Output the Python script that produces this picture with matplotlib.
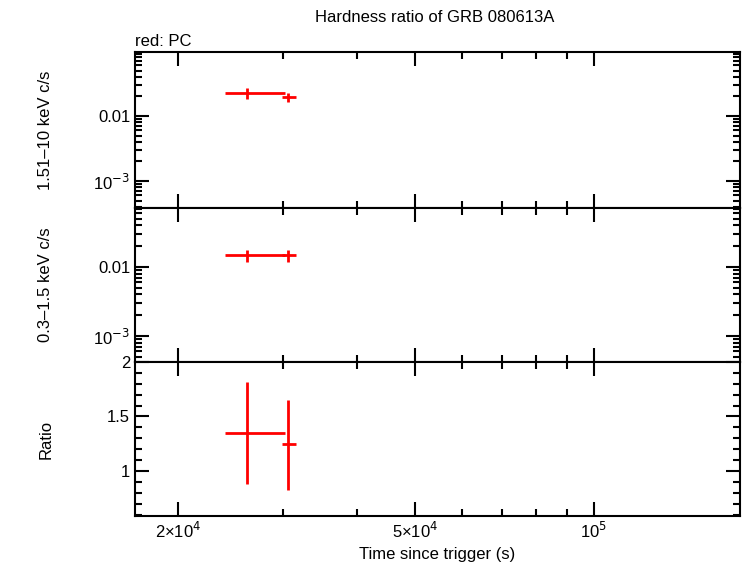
import matplotlib
matplotlib.use("Agg")
import matplotlib.pyplot as plt
from matplotlib.ticker import LogLocator, NullFormatter, FixedLocator, FixedFormatter
plt.rcParams['font.family'] = 'Liberation Sans'

t = [26100, 30600]
t_lo = [24000, 29900]
t_hi = [30270, 31600]
hard = [0.0226, 0.0196]
hard_err = [0.004, 0.003]
soft = [0.0149, 0.0149]
soft_err = [0.003, 0.003]
ratio = [1.353, 1.25]
ratio_lo = [0.88, 0.83]
ratio_hi = [1.82, 1.65]

W, H = 742, 566
fig = plt.figure(figsize=(W/100, H/100), dpi=100)
L, R = 135/W, 740/W
def ax_at(top, bot):
    return fig.add_axes([L, 1-bot/H, R-L, (bot-top)/H])
a1 = ax_at(52, 208); a2 = ax_at(208, 362); a3 = ax_at(362, 516)
xerr = [[c-l for c, l in zip(t, t_lo)], [h-c for c, h in zip(t, t_hi)]]
kw = dict(fmt='none', ecolor='red', elinewidth=2, capsize=0)
a1.errorbar(t, hard, xerr=xerr, yerr=hard_err, **kw)
a2.errorbar(t, soft, xerr=xerr, yerr=soft_err, **kw)
a3.errorbar(t, ratio, xerr=xerr, yerr=[[r-l for r, l in zip(ratio, ratio_lo)], [h-r for r, h in zip(ratio, ratio_hi)]], **kw)
for a in (a1, a2, a3):
    a.set_xscale('log'); a.set_xlim(16950, 176000)
    a.tick_params(which='both', direction='in', top=True, right=True, labelsize=12, width=1.5)
    a.tick_params(which='major', length=10); a.tick_params(which='minor', length=5)
    for s in a.spines.values(): s.set_linewidth(1.5)
    a.xaxis.set_major_locator(FixedLocator([2e4, 5e4, 1e5]))
    a.xaxis.set_minor_locator(LogLocator(subs=range(1, 10)))
    a.xaxis.set_minor_formatter(NullFormatter())
    a.xaxis.set_major_formatter(NullFormatter())
a3.xaxis.set_major_formatter(FixedFormatter(['2×10$^4$', '5×10$^4$', '10$^5$']))
a1.set_yscale('log'); a1.set_ylim(3.85e-4, 0.0966)
a2.set_yscale('log'); a2.set_ylim(4.2e-4, 0.0716)
for a in (a1, a2):
    a.yaxis.set_major_locator(FixedLocator([1e-3, 1e-2]))
    a.yaxis.set_major_formatter(FixedFormatter(['10$^{-3}$', '0.01']))
    a.yaxis.set_minor_locator(LogLocator(subs=range(2, 10)))
    a.yaxis.set_minor_formatter(NullFormatter())
a3.set_ylim(0.587, 2)
a3.set_yticks([1, 1.5, 2]); a3.set_yticklabels(['1', '1.5', '2'])
a3.set_yticks([0.6,0.7,0.8,0.9,1.1,1.2,1.3,1.4,1.6,1.7,1.8,1.9], minor=True)
a1.set_ylabel('1.51–10 keV c/s', fontsize=12)
a2.set_ylabel('0.3–1.5 keV c/s', fontsize=12)
a3.set_ylabel('Ratio', fontsize=12)
for a in (a1, a2, a3): a.yaxis.set_label_coords(-0.135, 0.5)
a3.set_xlabel('Time since trigger (s)', fontsize=12)
fig.text(435/W, 1-18/H, 'Hardness ratio of GRB 080613A', ha='center', va='center', fontsize=12)
fig.text(135/W, 1-41/H, 'red: PC', ha='left', va='center', fontsize=12)
fig.savefig('out.png', dpi=100)
